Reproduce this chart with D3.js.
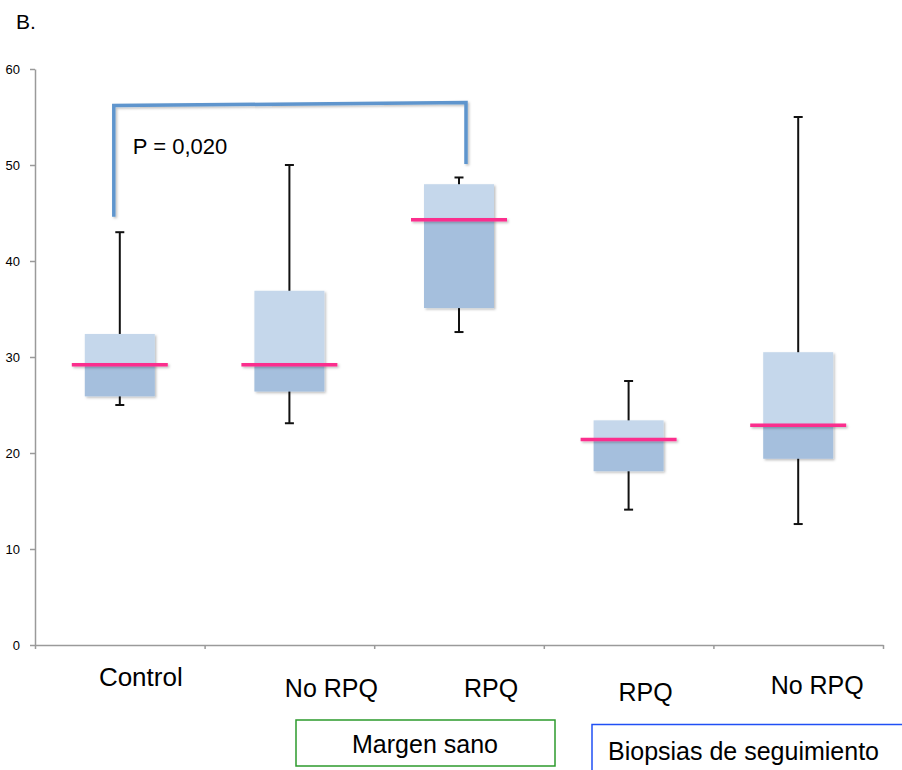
<!DOCTYPE html>
<html>
<head>
<meta charset="utf-8">
<script src="https://cdn.jsdelivr.net/npm/d3@7"></script>
<style>
    body { margin: 0; background: #fff; }
    svg { display: block; font-family: "Liberation Sans", Arial, sans-serif; }
</style>
</head>
<body>
<div id="chart"></div>
<script>
/******************************************************
 *!              Data
******************************************************/
const CATEGORIES = ['Control', 'No RPQ', 'RPQ', 'RPQ', 'No RPQ'];
const WHISKER_LOW = [25.0, 23.1, 32.6, 14.1, 12.6];
const Q1 = [25.9, 26.4, 35.1, 18.1, 19.4];
const MEDIAN = [29.2, 29.2, 44.3, 21.4, 22.9];
const Q3 = [32.4, 36.9, 48.0, 23.4, 30.5];
const WHISKER_HIGH = [43.0, 50.0, 48.7, 27.5, 55.0];
const Y_TICKS = [0, 10, 20, 30, 40, 50, 60];

// significance bracket between Control and RPQ (value units)
const BRACKET_FROM = 0;
const BRACKET_TO = 2;
const BRACKET_LEFT = [44.6, 56.2];
const BRACKET_RIGHT = [50.1, 56.5];
const P_LABEL = 'P = 0,020';

/******************************************************
 *!              Layout constants
******************************************************/
const WIDTH = 902;
const HEIGHT = 770;
const X0 = 35, X1 = 883;
const Y_TOP = 69, Y_BOTTOM = 645;
const BOX_WIDTH = 70;
const MEDIAN_WIDTH = 96;
const CAP_WIDTH = 9;
const LABEL_DX = [21, 42, 32, 17, 19];
const LABEL_Y = [686, 697, 697, 701, 694];
const LABEL_SIZE = [26, 25, 25, 25, 25];

const COLOR_UPPER = '#c5d7eb';
const COLOR_LOWER = '#a5bfdd';
const COLOR_MEDIAN = '#fb2e8d';
const COLOR_BRACKET = '#5e95cd';
const AXIS_GRAY = '#9a9a9a';

/******************************************************
 * Main draw
******************************************************/
function draw() {
    const svg = d3.select('#chart').append('svg')
        .attr('width', WIDTH)
        .attr('height', HEIGHT);

    // soft shadow like the original
    const defs = svg.append('defs');
    defs.append('filter').attr('id', 'shadow')
        .attr('x', '-10%').attr('y', '-10%').attr('width', '130%').attr('height', '130%')
        .append('feDropShadow')
        .attr('dx', 1.5).attr('dy', 1.5).attr('stdDeviation', 1)
        .attr('flood-color', '#000').attr('flood-opacity', 0.25);

    const idx = d3.range(CATEGORIES.length);
    const x = d3.scaleBand().domain(idx).range([X0, X1]).paddingInner(0);
    const xEdge = d3.scaleLinear().domain([0, CATEGORIES.length]).range([X0, X1]);
    const y = d3.scaleLinear().domain([0, 60]).range([Y_BOTTOM, Y_TOP]);
    const cx = i => x(i) + x.bandwidth() / 2;

    // Y axis
    const yAxis = svg.append('g')
        .attr('transform', `translate(${X0},0)`)
        .call(d3.axisLeft(y).tickValues(Y_TICKS).tickSize(5).tickSizeOuter(0).tickPadding(10));
    yAxis.select('.domain').attr('stroke', AXIS_GRAY).attr('stroke-width', 1.5);
    yAxis.selectAll('.tick line').attr('stroke', AXIS_GRAY).attr('stroke-width', 1.5);
    yAxis.selectAll('.tick text').attr('font-size', 13).attr('fill', '#000')
        .attr('font-family', '"Liberation Sans", Arial, sans-serif');

    // X axis (ticks on category boundaries)
    const xAxis = svg.append('g')
        .attr('transform', `translate(0,${Y_BOTTOM})`)
        .call(d3.axisBottom(xEdge).tickValues(d3.range(CATEGORIES.length + 1))
            .tickFormat('').tickSize(4).tickSizeOuter(0));
    xAxis.select('.domain').attr('stroke', AXIS_GRAY).attr('stroke-width', 1.5);
    xAxis.selectAll('.tick line').attr('stroke', AXIS_GRAY).attr('stroke-width', 1.5);

    // Whiskers
    const wh = svg.append('g').attr('stroke', '#111').attr('stroke-width', 2);
    idx.forEach(i => {
        wh.append('line').attr('x1', cx(i)).attr('x2', cx(i))
            .attr('y1', y(WHISKER_HIGH[i])).attr('y2', y(WHISKER_LOW[i]));
        [WHISKER_HIGH[i], WHISKER_LOW[i]].forEach(v => {
            wh.append('line')
                .attr('x1', cx(i) - CAP_WIDTH / 2).attr('x2', cx(i) + CAP_WIDTH / 2)
                .attr('y1', y(v)).attr('y2', y(v));
        });
    });

    // Boxes: upper (median..Q3) and lower (Q1..median)
    const boxes = svg.append('g').attr('filter', 'url(#shadow)');
    boxes.selectAll('rect.upper').data(idx).enter().append('rect')
        .attr('class', 'upper')
        .attr('x', i => cx(i) - BOX_WIDTH / 2)
        .attr('width', BOX_WIDTH)
        .attr('y', i => y(Q3[i]))
        .attr('height', i => y(MEDIAN[i]) - y(Q3[i]))
        .attr('fill', COLOR_UPPER);
    boxes.selectAll('rect.lower').data(idx).enter().append('rect')
        .attr('class', 'lower')
        .attr('x', i => cx(i) - BOX_WIDTH / 2)
        .attr('width', BOX_WIDTH)
        .attr('y', i => y(MEDIAN[i]))
        .attr('height', i => y(Q1[i]) - y(MEDIAN[i]))
        .attr('fill', COLOR_LOWER);

    // Medians
    svg.append('g').attr('filter', 'url(#shadow)')
        .selectAll('line').data(idx).enter().append('line')
        .attr('x1', i => cx(i) - MEDIAN_WIDTH / 2)
        .attr('x2', i => cx(i) + MEDIAN_WIDTH / 2)
        .attr('y1', i => y(MEDIAN[i]))
        .attr('y2', i => y(MEDIAN[i]))
        .attr('stroke', COLOR_MEDIAN)
        .attr('stroke-width', 3.5);

    // Bracket
    const bx0 = cx(BRACKET_FROM) - 6;
    const bx1 = cx(BRACKET_TO) + 7;
    svg.append('path')
        .attr('d', d3.line()([
            [bx0, y(BRACKET_LEFT[0])], [bx0, y(BRACKET_LEFT[1])],
            [bx1, y(BRACKET_RIGHT[1])], [bx1, y(BRACKET_RIGHT[0])]
        ]))
        .attr('fill', 'none')
        .attr('stroke', COLOR_BRACKET)
        .attr('stroke-width', 3.5)
        .attr('filter', 'url(#shadow)');
    svg.append('text')
        .attr('x', bx0 + 19).attr('y', 154)
        .attr('font-size', 22)
        .text(P_LABEL);

    // Panel letter
    svg.append('text').attr('x', 16).attr('y', 29).attr('font-size', 21).text('B.');

    // Category labels
    svg.selectAll('text.cat').data(idx).enter().append('text')
        .attr('class', 'cat')
        .attr('x', i => cx(i) + LABEL_DX[i])
        .attr('y', i => LABEL_Y[i])
        .attr('text-anchor', 'middle')
        .attr('font-size', i => LABEL_SIZE[i])
        .text(i => CATEGORIES[i]);

    // Group boxes
    svg.append('rect')
        .attr('x', 296).attr('y', 720).attr('width', 259).attr('height', 46)
        .attr('fill', 'none').attr('stroke', '#2d9a2d').attr('stroke-width', 1.5);
    svg.append('text')
        .attr('x', 425).attr('y', 753).attr('text-anchor', 'middle')
        .attr('font-size', 25).text('Margen sano');

    svg.append('path')
        .attr('d', 'M592,771 L592,724.5 L903,724.5')
        .attr('fill', 'none').attr('stroke', '#2050f5').attr('stroke-width', 1.5);
    svg.append('text')
        .attr('x', 608).attr('y', 760)
        .attr('font-size', 25).text('Biopsias de seguimiento');
}

draw();
</script>
</body>
</html>
